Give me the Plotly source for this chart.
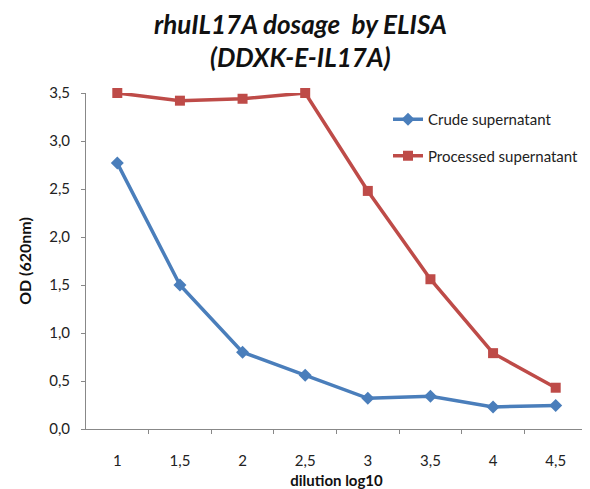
import plotly.graph_objects as go

categories = ["1", "1,5", "2", "2,5", "3", "3,5", "4", "4,5"]
crude = [2.77, 1.50, 0.80, 0.56, 0.32, 0.34, 0.23, 0.245]
processed = [3.50, 3.42, 3.44, 3.50, 2.48, 1.56, 0.79, 0.43]
y_ticks = [0, 0.5, 1.0, 1.5, 2.0, 2.5, 3.0, 3.5]
y_tick_labels = ["0,0", "0,5", "1,0", "1,5", "2,0", "2,5", "3,0", "3,5"]
title_lines = ["rhuIL17A dosage  by ELISA", "(DDXK-E-IL17A)"]

FONT = "Lato"
W, H = 590, 489
L, R, T, B = 78, 11, 85, 68
PW = W - L - R
PH = H - T - B

fig = go.Figure()
fig.add_trace(go.Scatter(
    x=categories, y=crude, name="Crude supernatant", mode="lines+markers",
    legendgroup="a",
    line=dict(color="#4A7EBB", width=3.5),
    marker=dict(symbol="diamond", size=10, color="#4A7EBB"),
    cliponaxis=False))
fig.add_trace(go.Scatter(
    x=categories, y=processed, name="Processed supernatant", mode="lines+markers",
    legendgroup="b",
    line=dict(color="#BE4B48", width=3.5),
    marker=dict(symbol="square", size=10, color="#BE4B48"),
    cliponaxis=False))

for i, line in enumerate(title_lines):
    fig.add_annotation(
        text=f"<b><i>{line}</i></b>", xref="paper", yref="paper",
        x=(292 - L) / PW, y=1 + (T - (16 + 33 * i)) / PH,
        xanchor="center", yanchor="middle", showarrow=False,
        font=dict(family=FONT, size=26, color="#111"))

fig.update_layout(
    width=W, height=H,
    margin=dict(l=L, r=R, t=T, b=B, autoexpand=False),
    paper_bgcolor="white", plot_bgcolor="white",
    font=dict(family=FONT, size=15, color="#222"),
    showlegend=True,
    legend=dict(x=(380 - L) / PW, y=1 - (95 - T) / PH, yanchor="top",
                xanchor="left", bgcolor="rgba(0,0,0,0)",
                traceorder="grouped", tracegroupgap=14,
                font=dict(family=FONT, size=15, color="#222"),
                itemwidth=30),
    xaxis=dict(type="category", showgrid=False, showline=True, linecolor="#888",
               linewidth=1, ticks="outside", tickson="boundaries", ticklen=4,
               tickcolor="#888", ticklabelstandoff=18, automargin=False,
               tickfont=dict(size=15),
               title=dict(text="<b>dilution log10</b>", standoff=7,
                          font=dict(family=FONT, size=15, color="#111"))),
    yaxis=dict(range=[0, 3.5], showgrid=False, showline=True, linecolor="#888",
               linewidth=1, ticks="outside", ticklen=4, tickcolor="#888",
               tickvals=y_ticks, ticktext=y_tick_labels, zeroline=False,
               ticklabelstandoff=8,
               automargin=False, tickfont=dict(size=15),
               title=dict(text="<b>OD (620nm)</b>", standoff=13,
                          font=dict(family=FONT, size=16, color="#111"))),
)

fig.write_html("out.html")
